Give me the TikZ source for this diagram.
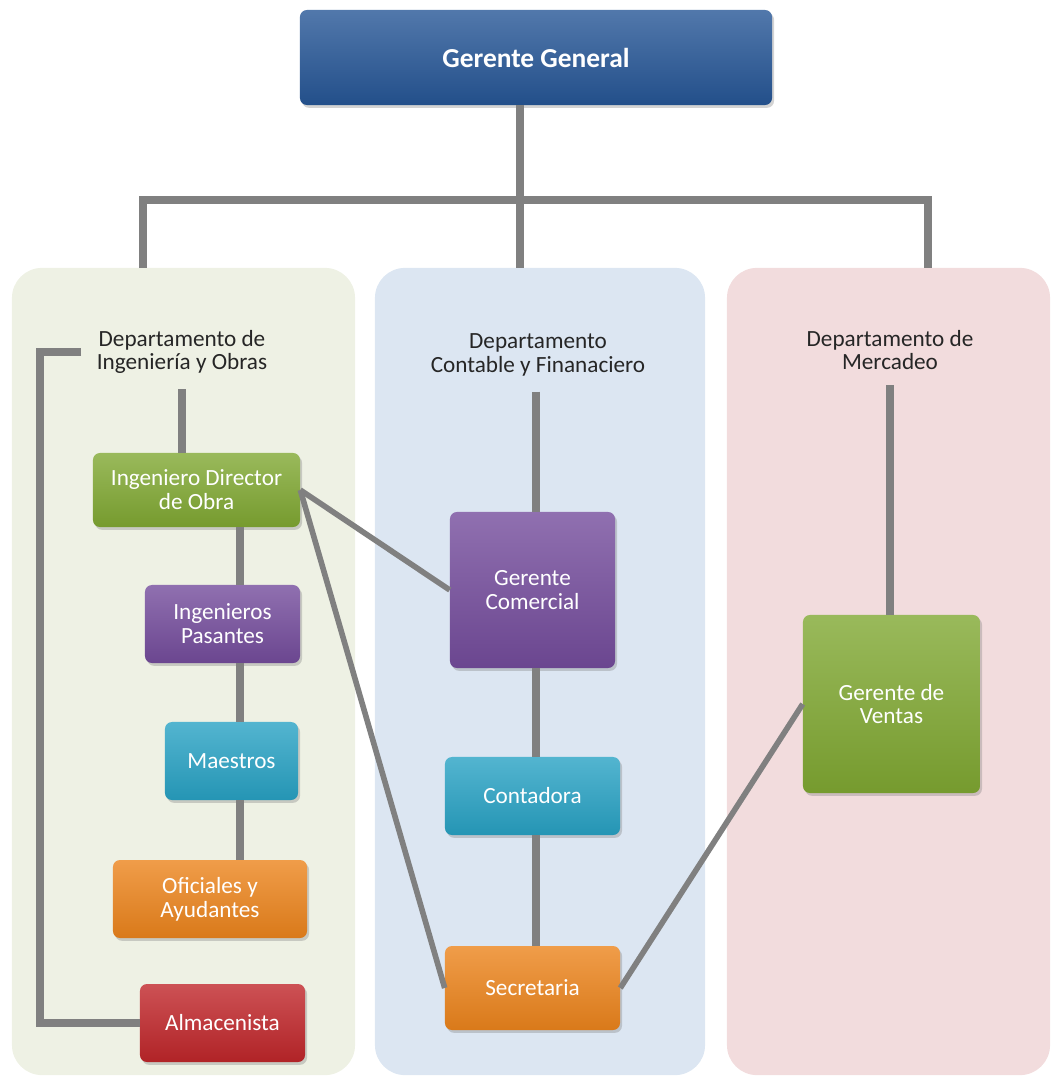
\documentclass[tikz,border=0pt]{standalone}
\usepackage{fontspec}
\setmainfont{Carlito}
\usetikzlibrary{shadows}

\definecolor{linkgray}{RGB}{128,128,128}
\definecolor{panelIng}{RGB}{238,241,228}
\definecolor{panelCon}{RGB}{220,230,242}
\definecolor{panelMer}{RGB}{242,220,221}
\definecolor{cBlue}{RGB}{38,86,150}
\definecolor{cGreen}{RGB}{128,168,50}
\definecolor{cPurple}{RGB}{116,76,156}
\definecolor{cCyan}{RGB}{40,162,196}
\definecolor{cOrange}{RGB}{236,132,28}
\definecolor{cRed}{RGB}{192,38,42}

\tikzset{
    panel/.style={rounded corners=0.75cm, inner sep=0pt, outer sep=0pt},
    orgbox/.style={rounded corners=5pt, text=white, align=center, inner sep=2pt,
        font=\fontsize{16.5}{17}\selectfont,
        drop shadow={opacity=0.35, shadow xshift=0.05cm, shadow yshift=-0.07cm}},
    tint/.style={top color=#1!80!white, bottom color=#1!92!black},
    deptlabel/.style={align=center, inner sep=11pt, text=black!85,
        font=\fontsize{16.5}{16.5}\selectfont},
    link/.style={draw=linkgray, line width=5pt},
    diag/.style={draw=linkgray, line width=4pt},
}

\begin{document}
\begin{tikzpicture}[x=0.025cm,y=-0.025cm]
    \useasboundingbox (0,0) rectangle (1052,1077);

    % department panels
    \node[panel, fill=panelIng, minimum width=8.575cm, minimum height=20.175cm] (pIng) at (183.5,671.5) {};
    \node[panel, fill=panelCon, minimum width=8.25cm, minimum height=20.175cm] (pCon) at (540,671.5) {};
    \node[panel, fill=panelMer, minimum width=8.075cm, minimum height=20.175cm] (pMer) at (888.5,671.5) {};

    % top
    \node[orgbox, tint=cBlue, minimum width=11.8cm, minimum height=2.375cm,
          font=\bfseries\fontsize{19.5}{20}\selectfont] (gg) at (536,57.5) {Gerente General};

    % department titles
    \node[deptlabel] (dIng) at (182,352) {Departamento de\\Ingeniería y Obras};
    \node[deptlabel] (dCon) at (538,355) {Departamento\\Contable y Finanaciero};
    \node[deptlabel] (dMer) at (890,350) {Departamento de\\Mercadeo};

    % left column
    \node[orgbox, tint=cGreen, minimum width=5.175cm, minimum height=1.85cm] (dir) at (196.5,490) {Ingeniero Director\\de Obra};
    \node[orgbox, tint=cPurple, minimum width=3.875cm, minimum height=1.95cm] (pas) at (222.5,624) {Ingenieros\\Pasantes};
    \node[orgbox, tint=cCyan, minimum width=3.325cm, minimum height=1.95cm] (mae) at (231.5,761) {Maestros};
    \node[orgbox, tint=cOrange, minimum width=4.85cm, minimum height=1.95cm] (ofi) at (210,899) {Oficiales y\\Ayudantes};
    \node[orgbox, tint=cRed, minimum width=4.125cm, minimum height=1.95cm] (alm) at (222.5,1023) {Almacenista};

    % middle column
    \node[orgbox, tint=cPurple, minimum width=4.125cm, minimum height=3.9cm] (com) at (532.5,590) {Gerente\\Comercial};
    \node[orgbox, tint=cCyan, minimum width=4.375cm, minimum height=1.95cm] (con) at (532.5,796) {Contadora};
    \node[orgbox, tint=cOrange, minimum width=4.375cm, minimum height=2.1cm] (sec) at (532.5,988) {Secretaria};

    % right column
    \node[orgbox, tint=cGreen, minimum width=4.425cm, minimum height=4.45cm] (ven) at (891.5,704) {Gerente de\\Ventas};

    % bus under the top box
    \coordinate (busL) at (143,200);
    \coordinate (busM) at (520,200);
    \coordinate (busR) at (928,200);
    \draw[link] (gg.south -| busM) -- (busM |- pCon.north);
    \draw[link] (busL |- pIng.north) -- (busL) -- (busR) -- (busR |- pMer.north);

    % vertical links
    \coordinate (colL) at (240,0);
    \coordinate (colM) at (536,0);
    \draw[link] (dIng.south) -- (dIng.south |- dir.north);
    \draw[link] (dir.south -| colL) -- (pas.north -| colL);
    \draw[link] (pas.south -| colL) -- (mae.north -| colL);
    \draw[link] (mae.south -| colL) -- (ofi.north -| colL);
    \draw[link] (dCon.south -| colM) -- (com.north -| colM);
    \draw[link] (com.south -| colM) -- (con.north -| colM);
    \draw[link] (con.south -| colM) -- (sec.north -| colM);
    \draw[link] (dMer.south) -- (dMer.south |- ven.north);

    % bracket to the store keeper
    \coordinate (brk) at (40,0);
    \draw[link] (dIng.west) -- (dIng.west -| brk) -- (alm.west -| brk) -- (alm.west);

    % cross links
    \draw[diag] (dir.east) -- (com.west);
    \draw[diag] (dir.east) -- (sec.west);
    \draw[diag] (sec.east) -- (ven.west);
\end{tikzpicture}
\end{document}
